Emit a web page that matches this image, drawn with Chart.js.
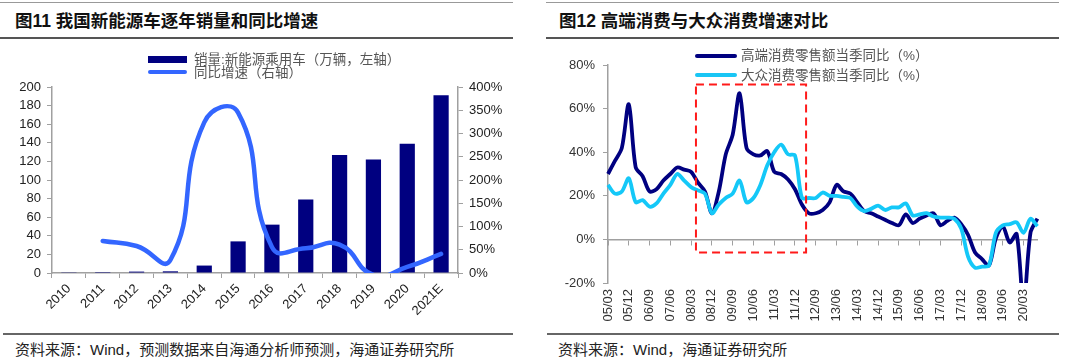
<!DOCTYPE html>
<html>
<head>
<meta charset="utf-8">
<script src="https://cdn.jsdelivr.net/npm/chart.js@4.4.1/dist/chart.umd.min.js"></script>
<style>
  body { margin: 0; background: #fff; }
  #wrap { position: relative; width: 1080px; height: 359px; overflow: hidden;
          font-family: "Liberation Sans", "Noto Sans CJK SC", sans-serif; }
  .rule { position: absolute; height: 0; }
  .title { position: absolute; font-size: 17.5px; font-weight: bold; color: #111; line-height: 20px; white-space: nowrap; }
  .src { position: absolute; font-size: 15px; color: #222; line-height: 18px; white-space: nowrap; }
  .lg { position: absolute; font-size: 13.5px; color: #555; line-height: 14px; white-space: nowrap; }
  .sw { position: absolute; }
  canvas { position: absolute; }
</style>
</head>
<body>
<div id="wrap">
  <!-- left panel frame -->
  <div class="rule" style="left:0;top:2px;width:513px;border-top:1px solid #999"></div>
  <div class="title" style="left:15px;top:11px">图11 我国新能源车逐年销量和同比增速</div>
  <div class="rule" style="left:0;top:37px;width:513px;border-top:2px solid #555"></div>
  <div class="rule" style="left:3px;top:333px;width:510px;border-top:2px solid #666"></div>
  <div class="src" style="left:15px;top:341px">资料来源：Wind，预测数据来自海通分析师预测，海通证券研究所</div>

  <!-- right panel frame -->
  <div class="rule" style="left:546px;top:2px;width:513px;border-top:1px solid #999"></div>
  <div class="title" style="left:559px;top:11px">图12 高端消费与大众消费增速对比</div>
  <div class="rule" style="left:546px;top:37px;width:513px;border-top:2px solid #555"></div>
  <div class="rule" style="left:547px;top:333px;width:512px;border-top:2px solid #666"></div>
  <div class="src" style="left:558px;top:341px">资料来源：Wind，海通证券研究所</div>

  <canvas id="chart-sales" width="513" height="290" style="left:0;top:40px"></canvas>
  <canvas id="chart-consume" width="513" height="294" style="left:546px;top:40px"></canvas>

  <!-- legends -->
  <div class="sw" style="left:148px;top:56px;width:39px;height:7px;background:#000080"></div>
  <div class="sw" style="left:148px;top:70px;width:39px;height:4px;background:#3366ff;border-radius:2px"></div>
  <div class="lg" style="left:194px;top:53px">销量:新能源乘用车（万辆，左轴）</div>
  <div class="lg" style="left:194px;top:66px">同比增速（右轴）</div>

  <div class="sw" style="left:695px;top:54px;width:42px;height:4px;background:#000080;border-radius:2px"></div>
  <div class="sw" style="left:695px;top:73px;width:42px;height:4px;background:#19c6f5;border-radius:2px"></div>
  <div class="lg" style="left:741px;top:49px">高端消费零售额当季同比（%）</div>
  <div class="lg" style="left:741px;top:69px">大众消费零售额当季同比（%）</div>
</div>

<script>
// figure 11 data
const years = ['2010', '2011', '2012', '2013', '2014', '2015', '2016', '2017', '2018', '2019', '2020', '2021E'];
const salesNev = [0.8, 1, 1.5, 1.8, 8, 34, 52, 79, 127, 122, 139, 191];   // 万辆
const salesGrowth = [null, 69, 58, 28, 324, 345, 56, 53, 61, -4, 13, 41]; // %

// figure 12 data (quarterly)
const quarters = [
  '05/03', '05/06', '05/09', '05/12', '06/03', '06/06', '06/09', '06/12',
  '07/03', '07/06', '07/09', '07/12', '08/03', '08/06', '08/09', '08/12',
  '09/03', '09/06', '09/09', '09/12', '10/03', '10/06', '10/09', '10/12',
  '11/03', '11/06', '11/09', '11/12', '12/03', '12/06', '12/09', '12/12',
  '13/03', '13/06', '13/09', '13/12', '14/03', '14/06', '14/09', '14/12',
  '15/03', '15/06', '15/09', '15/12', '16/03', '16/06', '16/09', '16/12',
  '17/03', '17/06', '17/09', '17/12', '18/03', '18/06', '18/09', '18/12',
  '19/03', '19/06', '19/09', '19/12', '20/03', '20/06', '20/09'
];
const highEndYoY = [
  30, 36, 42, 62, 33, 29, 22, 23, 27, 30, 33, 32, 31, 26, 22, 12,
  22, 39, 48, 67, 42, 39, 38.5, 40.5, 31, 30, 27.5, 23, 16, 12, 12, 13.5,
  17, 25, 22, 21, 17, 13, 12, 10.5, 9, 7.5, 6.5, 11.5, 7.5, 9.5, 11, 12,
  6.5, 8.5, 10, 7, 2, -6, -9, -12, 0.5, 6, -1.4, 2.5, -30, 3, 9.5
];
const massYoY = [
  25, 21, 22, 28, 17, 18, 15, 16.5, 21, 25, 30, 27, 24, 22.5, 21, 12,
  16, 19, 21, 27, 17, 19, 25, 34, 40, 43.5, 39, 38.5, 19, 19, 19, 21.5,
  20, 20, 19.5, 19, 15, 13, 14, 15.5, 13.5, 14.7, 14.7, 16.5, 11, 11.5, 12, 10.5,
  10, 10, 9.5, 5, -8, -13, -12.5, -12, 3, 6.4, 7, 7.8, 3, 9.5, 6
];
// red dashed box, in category index / percent units
const highlight = { from: 12.7, to: 28.6, low: -6, high: 71 };

const axisGray = '#a0a0a0';
Chart.defaults.font.family = '"Liberation Sans", Arial, sans-serif';
Chart.defaults.color = '#222';

// Sales bar + growth line chart

const chartSales = new Chart(document.getElementById('chart-sales'), {
  type: 'bar',
  data: {
    labels: years,
    datasets: [
      {
        type: 'line',
        label: '同比增速（右轴）',
        data: salesGrowth,
        yAxisID: 'y2',
        borderColor: '#3366ff',
        borderWidth: 4.5,
        borderCapStyle: 'round',
        tension: 0.5,
        pointRadius: 0,
        fill: false,
        order: 1
      },
      {
        type: 'bar',
        label: '销量:新能源乘用车（万辆，左轴）',
        data: salesNev,
        yAxisID: 'y',
        backgroundColor: '#000080',
        categoryPercentage: 1,
        barPercentage: 0.45,
        order: 2
      }
    ]
  },
  options: {
    responsive: false,
    animation: false,
    layout: { padding: { top: 47 } },
    plugins: { legend: { display: false }, tooltip: { enabled: false } },
    scales: {
      x: {
        grid: { drawOnChartArea: false, color: axisGray, tickLength: 5, offset: true },
        border: { color: axisGray, width: 1.5 },
        ticks: { font: { size: 13 }, minRotation: 45, maxRotation: 45, autoSkip: false },
        afterFit: s => { s.height = 57; }
      },
      y: {
        min: 0, max: 200,
        ticks: { stepSize: 20, font: { size: 13 }, padding: 6 },
        grid: { drawOnChartArea: false, color: axisGray, tickLength: 5 },
        border: { color: axisGray, width: 1.5 },
        afterFit: s => { s.width = 52; }
      },
      y2: {
        position: 'right',
        min: 0, max: 400,
        ticks: { stepSize: 50, font: { size: 13 }, padding: 6, callback: v => v + '%' },
        grid: { drawOnChartArea: false, color: axisGray, tickLength: 5 },
        border: { color: axisGray, width: 1.5 },
        afterFit: s => { s.width = 55; }
      }
    }
  }
});

// High-end vs mass consumption chart

const highlightBox = {
  id: 'highlightBox',
  afterDatasetsDraw(chart) {
    const { ctx, scales: { x, y } } = chart;
    const l = x.getPixelForValue(highlight.from);
    const r = x.getPixelForValue(highlight.to);
    const t = y.getPixelForValue(highlight.high);
    const b = y.getPixelForValue(highlight.low);
    ctx.save();
    ctx.strokeStyle = '#ff1a1a';
    ctx.lineWidth = 2;
    ctx.setLineDash([8, 5]);
    ctx.strokeRect(l, t, r - l, b - t);
    ctx.restore();
  }
};

const chartConsume = new Chart(document.getElementById('chart-consume'), {
  type: 'line',
  data: {
    labels: quarters,
    datasets: [
      {
        label: '高端消费零售额当季同比（%）',
        data: highEndYoY,
        xAxisID: 'x',
        borderColor: '#000080',
        borderWidth: 3.8,
        tension: 0.3,
        pointRadius: 0,
        order: 2
      },
      {
        label: '大众消费零售额当季同比（%）',
        data: massYoY,
        xAxisID: 'x',
        borderColor: '#14c8f8',
        borderWidth: 3.8,
        tension: 0.3,
        pointRadius: 0,
        order: 1
      }
    ]
  },
  options: {
    responsive: false,
    animation: false,
    layout: { padding: { top: 25, right: 11 } },
    plugins: { legend: { display: false }, tooltip: { enabled: false } },
    scales: {
      x: {
        type: 'category',
        offset: false,
        grid: { display: false, drawTicks: false },
        border: { display: false },
        ticks: {
          autoSkip: false, minRotation: 90, maxRotation: 90, padding: 6,
          font: { size: 13 }, color: '#333',
          callback(v, i) { return i % 3 === 0 ? this.getLabelForValue(v) : ''; }
        },
        afterFit: s => { s.height = 51; }
      },
      xZero: {
        type: 'category',
        position: { y: 0 },
        offset: false,
        grid: {
          drawOnChartArea: false, tickLength: 5,
          color: ctx => (ctx.index % 3 === 0 ? axisGray : 'rgba(0,0,0,0)')
        },
        border: { color: axisGray, width: 1.5 },
        ticks: { display: false, autoSkip: false }
      },
      y: {
        min: -20, max: 80,
        ticks: { stepSize: 20, font: { size: 13 }, color: '#333', padding: 8, callback: v => v + '%' },
        grid: { drawOnChartArea: false, color: axisGray, tickLength: 5 },
        border: { color: axisGray, width: 1.5 },
        afterFit: s => { s.width = 62; }
      }
    }
  },
  plugins: [highlightBox]
});
</script>
</body>
</html>
